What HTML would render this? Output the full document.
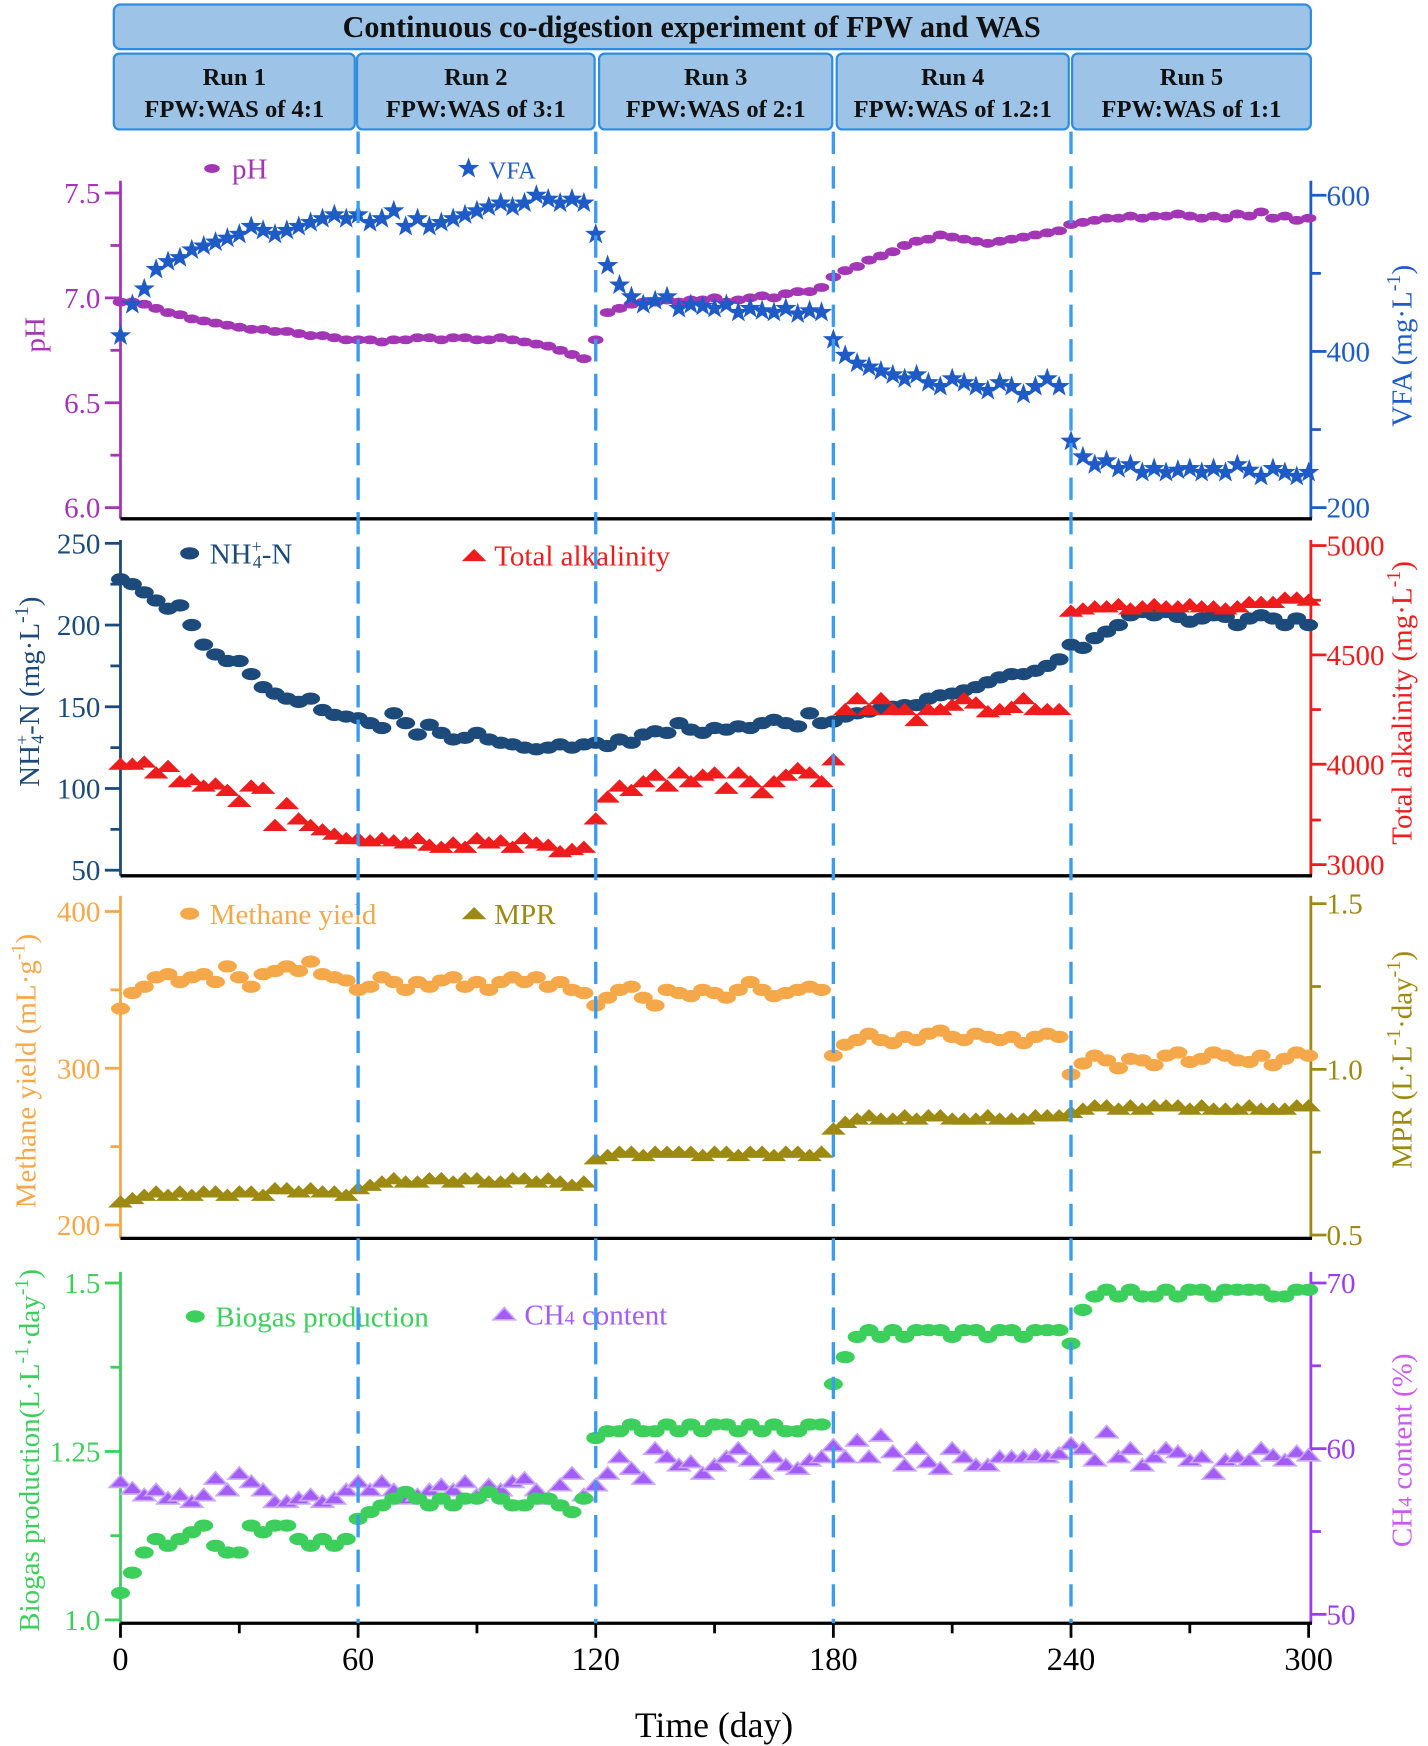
<!DOCTYPE html>
<html><head><meta charset="utf-8">
<style>
html,body{margin:0;padding:0;background:#fff;}
svg{display:block;font-family:"Liberation Serif",serif;}
</style></head>
<body>
<svg id="chart" width="1428" height="1746" viewBox="0 0 1280 1565" xmlns="http://www.w3.org/2000/svg"></svg>
<script>
const days=[0,3,6,9,12,15,18,21,24,27,30,33,36,39,42,45,48,51,54,57,60,63,66,69,72,75,78,81,84,87,90,93,96,99,102,105,108,111,114,117,120,123,126,129,132,135,138,141,144,147,150,153,156,159,162,165,168,171,174,177,180,183,186,189,192,195,198,201,204,207,210,213,216,219,222,225,228,231,234,237,240,243,246,249,252,255,258,261,264,267,270,273,276,279,282,285,288,291,294,297,300];
const phVals=[6.98,6.98,6.97,6.95,6.93,6.92,6.90,6.89,6.88,6.87,6.86,6.85,6.85,6.84,6.84,6.83,6.82,6.82,6.81,6.80,
6.80,6.80,6.79,6.80,6.80,6.81,6.81,6.80,6.81,6.81,6.80,6.80,6.81,6.80,6.79,6.78,6.77,6.75,6.73,6.71,
6.80,6.93,6.95,6.97,6.98,6.98,6.99,6.98,6.99,6.99,7.00,6.98,6.99,7.00,7.01,7.00,7.02,7.03,7.03,7.05,
7.10,7.13,7.15,7.18,7.20,7.22,7.25,7.27,7.28,7.30,7.29,7.28,7.27,7.26,7.27,7.28,7.29,7.30,7.31,7.32,
7.35,7.36,7.37,7.38,7.38,7.39,7.38,7.39,7.39,7.40,7.39,7.38,7.39,7.38,7.40,7.39,7.41,7.38,7.39,7.37,7.38];
const vfaVals=[420,460,480,505,515,520,530,535,540,545,550,560,555,550,555,560,565,570,575,570,
575,565,570,580,560,570,560,565,570,575,580,585,590,585,590,600,595,590,595,590,
550,510,485,470,460,465,470,455,460,458,455,460,450,455,452,450,455,448,452,450,
415,395,385,380,375,370,365,370,360,355,365,360,355,350,360,355,345,355,365,355,
285,265,255,260,250,255,245,250,245,248,250,245,250,245,255,248,240,250,245,240,245];
const nh4Vals=[228,225,220,215,210,212,200,188,182,178,178,170,162,158,155,153,155,148,145,144,
143,140,137,146,140,133,139,134,130,131,134,130,128,127,125,124,125,127,125,127,
128,126,130,128,133,135,134,140,136,134,137,136,138,137,140,142,140,138,146,140,
141,144,146,147,149,150,151,151,155,157,158,160,162,165,168,170,170,172,175,179,
188,186,192,196,200,206,208,206,208,205,202,204,206,205,200,204,206,204,200,204,200];
const taVals=[4000,4000,4010,3960,3990,3920,3930,3900,3910,3880,3830,3900,3890,3720,3820,3750,3720,3700,3680,3660,
3660,3650,3660,3650,3640,3660,3630,3620,3640,3620,3660,3640,3650,3620,3660,3640,3630,3600,3610,3620,
3750,3850,3900,3880,3920,3950,3900,3960,3920,3950,3960,3890,3960,3920,3870,3920,3950,3980,3960,3920,
4020,4250,4300,4250,4300,4250,4250,4200,4250,4250,4270,4300,4280,4240,4250,4260,4300,4250,4250,4250,
4700,4710,4720,4720,4730,4710,4720,4730,4720,4720,4730,4720,4720,4710,4720,4740,4740,4740,4760,4760,4750];
const myVals=[338,348,352,358,360,355,358,360,355,365,358,352,360,362,365,362,368,360,358,356,
350,352,358,355,350,355,352,356,358,352,355,350,355,358,355,358,352,355,350,348,
340,345,350,352,345,340,350,348,346,350,348,345,350,355,350,346,348,350,352,350,
308,315,318,322,318,316,320,318,322,324,320,318,322,320,318,320,316,320,322,320,
296,303,308,305,300,306,305,302,308,310,304,306,310,308,305,304,308,302,306,310,308];
const mprVals=[0.60,0.61,0.62,0.63,0.62,0.63,0.62,0.63,0.63,0.62,0.63,0.63,0.62,0.64,0.64,0.63,0.64,0.63,0.63,0.62,
0.64,0.65,0.66,0.67,0.66,0.66,0.67,0.67,0.66,0.67,0.67,0.66,0.66,0.67,0.67,0.66,0.67,0.66,0.65,0.66,
0.73,0.74,0.75,0.75,0.74,0.75,0.75,0.75,0.75,0.74,0.75,0.75,0.74,0.75,0.75,0.74,0.75,0.75,0.74,0.75,
0.82,0.84,0.85,0.86,0.85,0.85,0.86,0.85,0.86,0.86,0.85,0.85,0.85,0.86,0.85,0.85,0.85,0.86,0.86,0.86,
0.87,0.88,0.89,0.89,0.88,0.89,0.88,0.89,0.89,0.89,0.88,0.89,0.88,0.88,0.88,0.89,0.88,0.88,0.88,0.89,0.89];
const bgVals=[1.04,1.07,1.10,1.12,1.11,1.12,1.13,1.14,1.11,1.10,1.10,1.14,1.13,1.14,1.14,1.12,1.11,1.12,1.11,1.12,
1.15,1.16,1.17,1.18,1.19,1.18,1.17,1.18,1.17,1.18,1.18,1.19,1.18,1.17,1.17,1.18,1.18,1.17,1.16,1.18,
1.27,1.28,1.28,1.29,1.28,1.28,1.29,1.28,1.29,1.28,1.29,1.29,1.28,1.29,1.28,1.29,1.28,1.28,1.29,1.29,
1.35,1.39,1.42,1.43,1.42,1.43,1.42,1.43,1.43,1.43,1.42,1.43,1.43,1.42,1.43,1.43,1.42,1.43,1.43,1.43,
1.41,1.46,1.48,1.49,1.48,1.49,1.48,1.48,1.49,1.48,1.49,1.49,1.48,1.49,1.49,1.49,1.49,1.48,1.48,1.49,1.49];
const ch4Vals=[58,57.6,57.2,57.5,57,57.2,56.8,57.2,58.2,57.5,58.5,58,57.5,56.8,56.8,57,57.2,56.8,57,57.5,
58,57.5,58,57.5,57,57.2,57.5,57.8,57.5,58,57.2,57.8,57.5,58,58.2,57.5,57,57.8,58.5,57.2,
57.8,58.5,59.5,58.8,58.2,60,59.5,59,59.2,58.5,59,59.5,60,59.3,58.5,59.5,59,58.8,59.3,59.5,
60.2,59.5,60.5,59.5,60.8,59.8,59,60,59.2,58.8,60,59.5,59,59,59.5,59.5,59.5,59.6,59.5,59.7,
60.3,60,59.3,61,59.5,60,59,59.5,60,59.8,59.3,59.5,58.5,59.3,59.5,59.3,60,59.6,59.3,59.8,59.6];
const xTicks=[0,60,120,180,240,300];
const runNames=["Run 1","Run 2","Run 3","Run 4","Run 5"];
const runRatios=["FPW:WAS of 4:1","FPW:WAS of 3:1","FPW:WAS of 2:1","FPW:WAS of 1.2:1","FPW:WAS of 1:1"];

const NS="http://www.w3.org/2000/svg";
const svg=document.getElementById('chart');
function mk(tag,attrs,parent){const e=document.createElementNS(NS,tag);for(const k in attrs)e.setAttribute(k,attrs[k]);(parent||svg).appendChild(e);return e;}
const X0=108,X1=1173;
const xs=d=>X0+(d/300)*(X1-X0);
function lin(v0,p0,v1,p1){return v=>p0+(v-v0)*(p1-p0)/(v1-v0);}

// header
let hb=mk('rect',{x:102,y:4,width:1073,height:40,rx:6,fill:'#9dc3e6',stroke:'#2e8de0','stroke-width':2});


let ht=mk('text',{x:620,y:33,'text-anchor':'middle','font-size':27,'font-weight':'bold',fill:'#111'});ht.textContent='Continuous co-digestion experiment of  FPW and WAS';


const boxX=[102,320,537,750,961],boxW=[216,213,209,208,214];
for(let i=0;i<5;i++){
  const g=mk('g',{});
  
  
  mk('rect',{x:boxX[i],y:48,width:boxW[i],height:68,rx:5,fill:'#9dc3e6',stroke:'#2e8de0','stroke-width':2},g);
  const t1=mk('text',{x:boxX[i]+boxW[i]/2,y:76,'text-anchor':'middle','font-size':22,'font-weight':'bold',fill:'#111'},g);t1.textContent=runNames[i];
  const t2=mk('text',{x:boxX[i]+boxW[i]/2,y:105,'text-anchor':'middle','font-size':22,'font-weight':'bold',fill:'#111'},g);t2.textContent=runRatios[i];
}

function marker(kind,x,y,color,g){
  if(kind==='ell') return mk('ellipse',{cx:x,cy:y,rx:8.5,ry:5.5,fill:color},g);
  if(kind==='ells') return mk('ellipse',{cx:x,cy:y,rx:7,ry:4,fill:color},g);
  if(kind==='tri') return mk('polygon',{points:`${x-11},${y+5} ${x},${y-6} ${x+11},${y+5}`,fill:color},g);
  if(kind==='trio') return mk('polygon',{points:`${x-10},${y+5} ${x},${y-6} ${x+10},${y+5}`,fill:'#a35cf5',stroke:'#c9a8f7','stroke-width':1.5},g);
  if(kind==='star'){let p=[];for(let k=0;k<10;k++){const r=k%2?4:10,a=-Math.PI/2+k*Math.PI/5;p.push((x+r*Math.cos(a)).toFixed(1)+','+(y+r*Math.sin(a)).toFixed(1));}return mk('polygon',{points:p.join(' '),fill:color},g);}
}
function series(name,vals,sc,kind,color){
  const g=mk('g',{});
  
  
  vals.forEach((v,i)=>{const m=marker(kind,xs(days[i]),sc(v),color,g);
    
    });
}
function axis(side,top,bot,sc,ticks,minors,labels,color,name){
  const g=mk('g',{});
  
  
  const x=side==='L'?X0:X1+2,dir=side==='L'?-1:1;
  mk('line',{x1:x,y1:top,x2:x,y2:bot,stroke:color,'stroke-width':2.5},g);
  ticks.forEach((t,i)=>{const y=sc(t);mk('line',{x1:x,y1:y,x2:x+dir*14,y2:y,stroke:color,'stroke-width':2.5},g);
    const tx=mk('text',{x:side==='L'?x-18:x+14,y:y+9,'text-anchor':side==='L'?'end':'start','font-size':26,fill:color},g);tx.textContent=labels[i];});
  minors.forEach(t=>{const y=sc(t);mk('line',{x1:x,y1:y,x2:x+dir*9,y2:y,stroke:color,'stroke-width':2.5},g);});
  return g;
}
function ytitle(x,y,txt,color,name,html){
  const t=mk('text',{x:x,y:y,'text-anchor':'middle','font-size':26,fill:color,transform:`rotate(-90 ${x} ${y})`});
  t.innerHTML=html||txt;
  
  
}
function legend(x,y,kind,color,label,name,html){
  const g=mk('g',{});
  
  
  marker(kind,x,y,color,g);
  const t=mk('text',{x:x+18,y:y+9,'font-size':26,fill:color},g);t.innerHTML=html||label;
}

// Panel 1
const phS=lin(6.0,455,7.5,173), vfaS=lin(200,455,600,175);
axis('L',162,465,phS,[6.0,6.5,7.0,7.5],[6.25,6.75,7.25],['6.0','6.5','7.0','7.5'],'#a236b5','ph-axis');
axis('R',162,465,vfaS,[200,400,600],[300,500],['200','400','600'],'#1f5bc6','vfa-axis');
ytitle(40,300,'pH','#a236b5','ph-axis-title');
ytitle(1265,310,'','#1f5bc6','vfa-axis-title','VFA (mg·L<tspan dy="-10" font-size="18">-1</tspan><tspan dy="10">)</tspan>');
legend(190,151,'ells','#a236b5','pH','legend-ph');
legend(420,151,'star','#1f5bc6','','legend-vfa','<tspan font-size="22">VFA</tspan>');
series('ph-series',phVals,phS,'ells','#a236b5');
series('vfa-series',vfaVals,vfaS,'star','#1f5bc6');

// Panel 2
const nhS=lin(50,780,250,487), taS=lin(4000,685,5000,489);
axis('L',484,785,nhS,[50,100,150,200,250],[75,125,175,225],['50','100','150','200','250'],'#1c4a7a','nh4-axis');
const taAx=axis('R',484,785,taS,[4000,4500,5000],[4250,4750],['4000','4500','5000'],'#ee1c1c','alkalinity-axis');
mk('line',{x1:X1+2,y1:775,x2:X1+16,y2:775,stroke:'#ee1c1c','stroke-width':2.5},taAx);
mk('line',{x1:X1+2,y1:735,x2:X1+11,y2:735,stroke:'#ee1c1c','stroke-width':2.5},taAx);
const t3k=mk('text',{x:X1+16,y:784,'font-size':26,fill:'#ee1c1c'},taAx);t3k.textContent='3000';
ytitle(35,620,'','#1c4a7a','nh4-axis-title','NH<tspan dy="-10" font-size="16">+</tspan><tspan dy="14" dx="-8" font-size="16">4</tspan><tspan dy="-4">-N (mg·L</tspan><tspan dy="-10" font-size="18">-1</tspan><tspan dy="10">)</tspan>');
ytitle(1265,630,'','#ee1c1c','alkalinity-axis-title','Total alkalinity (mg·L<tspan dy="-10" font-size="18">-1</tspan><tspan dy="10">)</tspan>');
legend(170,496,'ell','#1c4a7a','','legend-nh4','NH<tspan dy="-10" font-size="16">+</tspan><tspan dy="14" dx="-8" font-size="16">4</tspan><tspan dy="-4">-N</tspan>');
legend(425,498,'tri','#ee1c1c','Total  alkalinity','legend-alkalinity');
series('nh4-series',nh4Vals,nhS,'ell','#1c4a7a');
series('alkalinity-series',taVals,taS,'tri','#ee1c1c');

// Panel 3
const myS=lin(200,1098,400,817), mprS=lin(0.5,1107,1.5,810);
axis('L',803,1110,myS,[200,300,400],[250,350],['200','300','400'],'#f5a84a','methane-yield-axis');
axis('R',803,1110,mprS,[0.5,1.0,1.5],[0.75,1.25],['0.5','1.0','1.5'],'#9c8a12','mpr-axis');
ytitle(32,960,'','#f5a84a','methane-yield-axis-title','Methane yield (mL·g<tspan dy="-10" font-size="18">-1</tspan><tspan dy="10">)</tspan>');
ytitle(1265,950,'','#9c8a12','mpr-axis-title','MPR (L·L<tspan dy="-10" font-size="18">-1</tspan><tspan dy="10">·day</tspan><tspan dy="-10" font-size="18">-1</tspan><tspan dy="10">)</tspan>');
legend(170,819,'ell','#f5a84a','Methane yield','legend-methane-yield');
legend(425,819,'tri','#9c8a12','MPR','legend-mpr');
series('methane-yield-series',myVals,myS,'ell','#f5a84a');
series('mpr-series',mprVals,mprS,'tri','#9c8a12');

// Panel 4
const bgS=lin(1.0,1452,1.5,1150), chS=lin(50,1447,70,1150);
axis('L',1140,1455,bgS,[1.0,1.25,1.5],[1.125,1.375],['1.0','1.25','1.5'],'#3ccf5c','biogas-axis');
axis('R',1140,1455,chS,[50,60,70],[55,65],['50','60','70'],'#9b3cf0','ch4-axis');
ytitle(35,1300,'','#3ccf5c','biogas-axis-title','Biogas production(L·L<tspan dy="-10" font-size="18">-1</tspan><tspan dy="10">·day</tspan><tspan dy="-10" font-size="18">-1</tspan><tspan dy="10">)</tspan>');
ytitle(1265,1300,'','#c85cf0','ch4-axis-title','CH<tspan font-size="18">4</tspan> content (%)');
legend(175,1180,'ell','#3ccf5c','Biogas production','legend-biogas');
legend(452,1178,'trio','#9b3cf0','','legend-ch4','<tspan fill="#a35cf5">CH<tspan font-size="18">4</tspan> content</tspan>');
series('ch4-series',ch4Vals,chS,'trio','#9b3cf0');
series('biogas-series',bgVals,bgS,'ell','#3ccf5c');

// panel separators
[465,785,1110,1455].forEach((y,i)=>{const l=mk('line',{x1:X0,y1:y,x2:X1+3,y2:y,stroke:'#000','stroke-width':3});
  
  });

// dashed run dividers
[60,120,180,240].forEach(d=>{const l=mk('line',{x1:xs(d),y1:118,x2:xs(d),y2:1455,stroke:'#3a9bef','stroke-width':3,'stroke-dasharray':'20,11'});
  
  });

// x ticks
xTicks.forEach(t=>{mk('line',{x1:xs(t),y1:1455,x2:xs(t),y2:1468,stroke:'#000','stroke-width':2.5});
  const tx=mk('text',{x:xs(t),y:1497,'text-anchor':'middle','font-size':29,fill:'#000'});tx.textContent=t;
  
  });
[30,90,150,210,270].forEach(t=>mk('line',{x1:xs(t),y1:1455,x2:xs(t),y2:1464,stroke:'#000','stroke-width':2.5}));
const xt=mk('text',{x:640,y:1557,'text-anchor':'middle','font-size':32,fill:'#000'});xt.textContent='Time (day)';


</script>
</body></html>
